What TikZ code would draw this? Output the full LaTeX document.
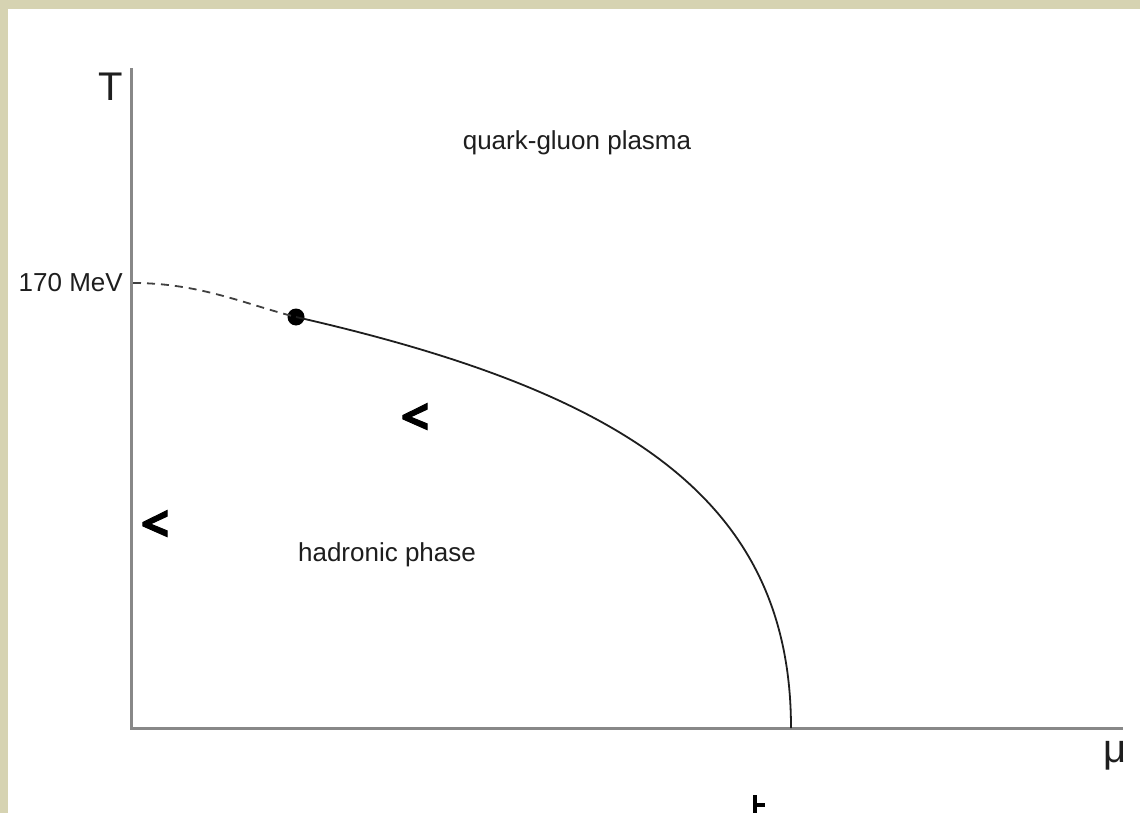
\documentclass[tikz,border=0pt]{standalone}
\usepackage{fontspec}
\setmainfont{Liberation Sans}
\newfontfamily\chevfont[FakeBold=2]{Open Sans Bold}
\definecolor{beige}{RGB}{214,211,178}
\definecolor{axisgray}{RGB}{136,136,136}
\definecolor{ink}{RGB}{30,30,30}
\tikzset{
  axisline/.style={axisgray, line width=3pt},
  phaseline/.style={ink, line width=1.8pt},
  phasedash/.style={ink!85, line width=1.8pt, dash pattern=on 8pt off 6pt},
  regionlabel/.style={ink, font=\fontsize{26}{30}\selectfont, inner sep=0pt},
  axislabel/.style={ink, font=\fontsize{40}{48}\selectfont, inner sep=0pt},
  chev/.style={black, font=\chevfont\fontsize{50}{60}\selectfont, inner sep=0pt},
}
\begin{document}
\begin{tikzpicture}[x=1pt, y=-1pt]
\useasboundingbox (0,0) rectangle (1140,813);
\fill[beige] (0,0) rectangle (1140,813);
\fill[white] (8,9) rectangle (1140,813);
% axes
\coordinate (O) at (131,728);
\coordinate (ytop) at (131,70);
\coordinate (xend) at (1121,728);
\draw[axisline, line cap=rect] (ytop) -- (O) -- (xend);
% labels
\node[axislabel] (Tlab) at (110.5,87) {T};
\node[axislabel, anchor=base] (mulab) at (1115,762) {μ};
\node[regionlabel, anchor=east] (mev) at (123,283) {170 MeV};
\node[regionlabel] (qgp) at (577,143) {quark-gluon plasma};
\node[regionlabel] (had) at (387,555) {hadronic phase};
% phase boundary
\coordinate (tc) at (133,283);
\coordinate (ce) at (791,728);
\node[circle, fill=black, minimum size=17pt, inner sep=0pt] (cp) at (296,317) {};
\draw[phasedash] (tc) .. controls (200,283) and (246,304.5) .. (cp.center);
\draw[phaseline] (cp.center) .. controls (626,392) and (791,500) .. (ce);
% chevrons
\node[chev] (c1) at (415,419) {<};
\node[chev] (c2) at (155,526) {<};
% clipped glyph at bottom
\fill[black] (753,795) rectangle (757,813);
\fill[black] (757,803) rectangle (765,807);
\end{tikzpicture}
\end{document}
